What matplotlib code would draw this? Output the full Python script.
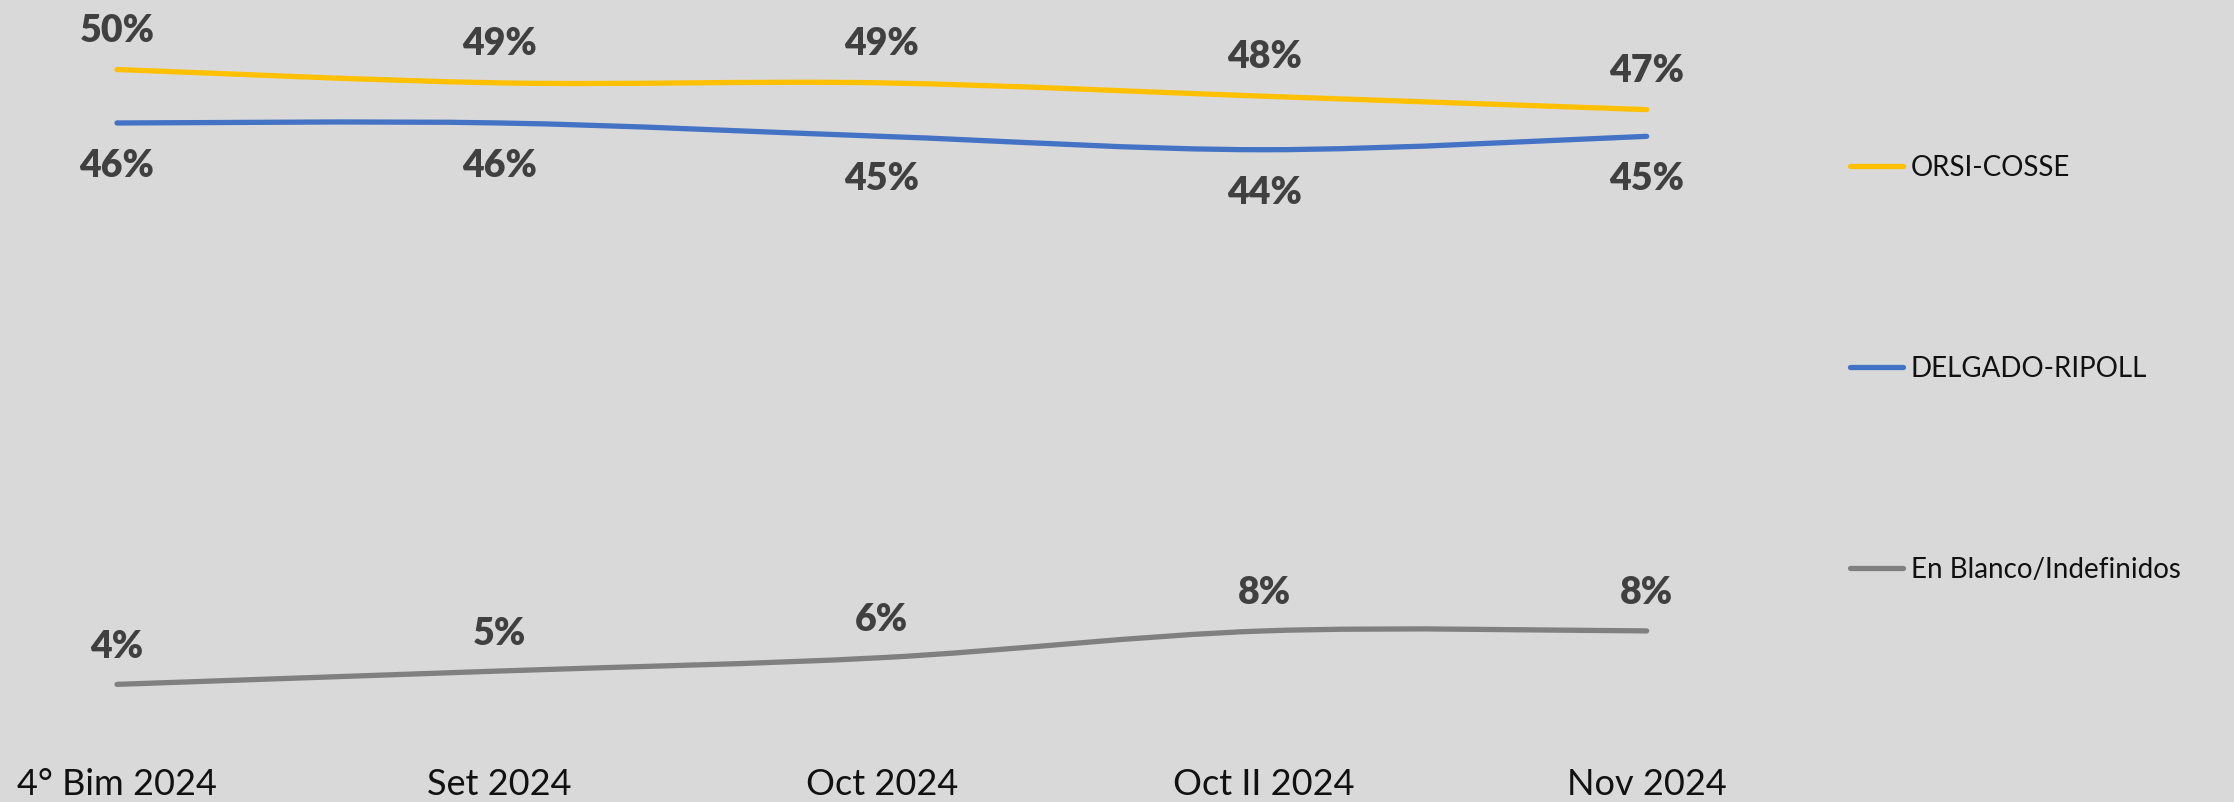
import matplotlib
matplotlib.use("Agg")
from matplotlib import pyplot as plt
from matplotlib.path import Path
from matplotlib.patches import PathPatch
from matplotlib.lines import Line2D

# Survey waves and vote intention (%)
periods = ["4° Bim 2024", "Set 2024", "Oct 2024", "Oct II 2024", "Nov 2024"]
orsi_cosse = [50, 49, 49, 48, 47]
delgado_ripoll = [46, 46, 45, 44, 45]
blanco_indef = [4, 5, 6, 8, 8]

series_names = ["ORSI-COSSE", "DELGADO-RIPOLL", "En Blanco/Indefinidos"]
colors = ["#FFC000", "#4472C4", "#808080"]
bg = "#D9D9D9"

plt.rcParams['font.family'] = ['Lato', 'DejaVu Sans']

fig = plt.figure(figsize=(22.34, 8.02), dpi=100, facecolor=bg)
ax = fig.add_axes([0.0, 0.08, 0.797, 0.92])
ax.set_facecolor(bg)


def smooth_path(xs, ys):
    # Excel-style smoothed line: cubic bezier segments through the points
    pts = list(zip(xs, ys))
    verts = [pts[0]]
    codes = [Path.MOVETO]
    n = len(pts)
    for i in range(n - 1):
        p0 = pts[max(i - 1, 0)]
        p1 = pts[i]
        p2 = pts[i + 1]
        p3 = pts[min(i + 2, n - 1)]
        c1 = (p1[0] + (p2[0] - p0[0]) / 6, p1[1] + (p2[1] - p0[1]) / 6)
        c2 = (p2[0] - (p3[0] - p1[0]) / 6, p2[1] - (p3[1] - p1[1]) / 6)
        verts += [c1, c2, p2]
        codes += [Path.CURVE4] * 3
    return Path(verts, codes)


x = list(range(len(periods)))
all_series = [orsi_cosse, delgado_ripoll, blanco_indef]
label_offsets = [28, -31, 27]  # points above (+) / below (-) the line

for vals, col, off in zip(all_series, colors, label_offsets):
    patch = PathPatch(smooth_path(x, vals), facecolor='none', edgecolor=col,
                      lw=3.8, capstyle='round')
    ax.add_patch(patch)
    for xi, v in zip(x, vals):
        ax.annotate(f"{v}%", (xi, v), xytext=(0, off), textcoords='offset points',
                    ha='center', va='center', fontsize=27, fontweight='heavy',
                    color='#404040')

ax.set_xlim(-0.306, 4.35)
ax.set_ylim(0, 55.2)
ax.set_xticks(x)
ax.set_xticklabels(periods, fontsize=26, color='#111111')
ax.tick_params(axis='x', length=0, pad=22)
ax.set_yticks([])
for s in ax.spines.values():
    s.set_visible(False)

handles = [Line2D([], [], color=c, lw=3.8, solid_capstyle='round') for c in colors]
fig.legend(handles, series_names, loc='upper left', bbox_to_anchor=(0.828, 0.807),
           frameon=False, fontsize=20, labelspacing=6.3, handlelength=1.9,
           handletextpad=0.3, borderpad=0, borderaxespad=0, labelcolor='#111111')

fig.savefig("out.png", dpi=100, facecolor=bg)
